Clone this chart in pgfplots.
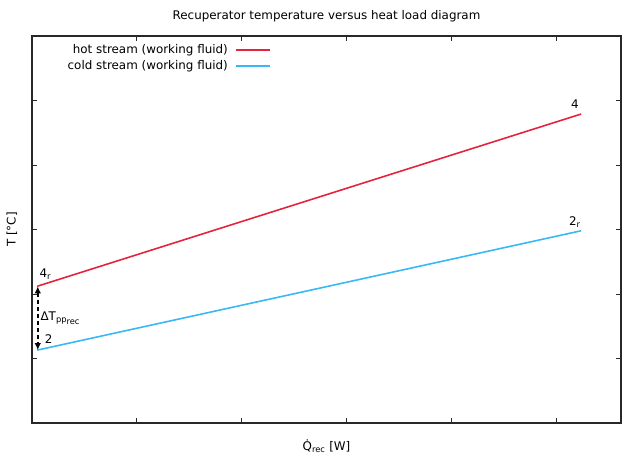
\documentclass[border=0pt]{standalone}
\usepackage{fontspec}
\setmainfont{DejaVu Sans}
\usepackage{pgfplots}
\pgfplotsset{compat=1.18}
\usetikzlibrary{arrows.meta}
\definecolor{hotc}{RGB}{228,36,60}
\definecolor{coldc}{RGB}{56,184,245}
\definecolor{framec}{RGB}{40,40,40}
\begin{document}
\fontsize{11.9bp}{14bp}\selectfont
\begin{tikzpicture}
\useasboundingbox (-32bp,-39bp) rectangle (608bp,423bp);
\begin{axis}[
  at={(0,0)}, anchor=south west,
  scale only axis, width=589bp, height=387bp,
  xmin=0, xmax=5.61, ymin=0, ymax=6,
  xtick={1,2,3,4,5}, ytick={1,2,3,4,5},
  xticklabels={}, yticklabels={},
  tick align=inside, major tick length=5bp,
  tick style={framec, line width=1pt},
  axis line style={framec, line width=1.3pt},
  title={Recuperator temperature versus heat load diagram},
  title style={at={(0.5,1)}, anchor=center, yshift=14bp, font=\fontsize{11.9bp}{14bp}\selectfont},
  xlabel={Q̇\textsubscript{rec} [W]},
  xlabel style={at={(0.5,0)}, anchor=center, yshift=-23bp},
  ylabel={T [°C]},
  ylabel style={at={(-0.034,0.5)}, anchor=center},
]
\addplot[hotc, line width=1.6pt] coordinates {(0.05,2.12) (5.23,4.79)};
\addplot[coldc, line width=1.6pt] coordinates {(0.05,1.13) (5.23,2.98)};
% legend
\node[anchor=east, inner sep=0pt] at (rel axis cs:0.3328,0.9638) {hot stream (working fluid)};
\draw[hotc, line width=1.6pt] (rel axis cs:0.3464,0.9638) -- (rel axis cs:0.4041,0.9638);
\node[anchor=east, inner sep=0pt] at (rel axis cs:0.3328,0.9225) {cold stream (working fluid)};
\draw[coldc, line width=1.6pt] (rel axis cs:0.3464,0.9225) -- (rel axis cs:0.4041,0.9225);
% annotations
\draw[black, line width=1.8pt, dash pattern=on 4bp off 3bp, {Latex[length=7bp,width=6.5bp]}-{Latex[length=7bp,width=6.5bp]}] (axis cs:0.055,2.12) -- (axis cs:0.055,1.13);
\node[anchor=base west, inner sep=0pt] at (axis cs:0.07,2.26) {4\textsubscript{r}};
\node[anchor=base west, inner sep=0pt] at (axis cs:0.12,1.23) {2};
\node[anchor=west, inner sep=0pt] at (axis cs:0.08,1.62) {ΔT\textsubscript{pp\raisebox{-0.45ex}{rec}}};
\node[anchor=base, inner sep=0pt] at (axis cs:5.17,4.88) {4};
\node[anchor=base, inner sep=0pt] at (axis cs:5.17,3.06) {2\textsubscript{r}};
\end{axis}
\end{tikzpicture}
\end{document}
